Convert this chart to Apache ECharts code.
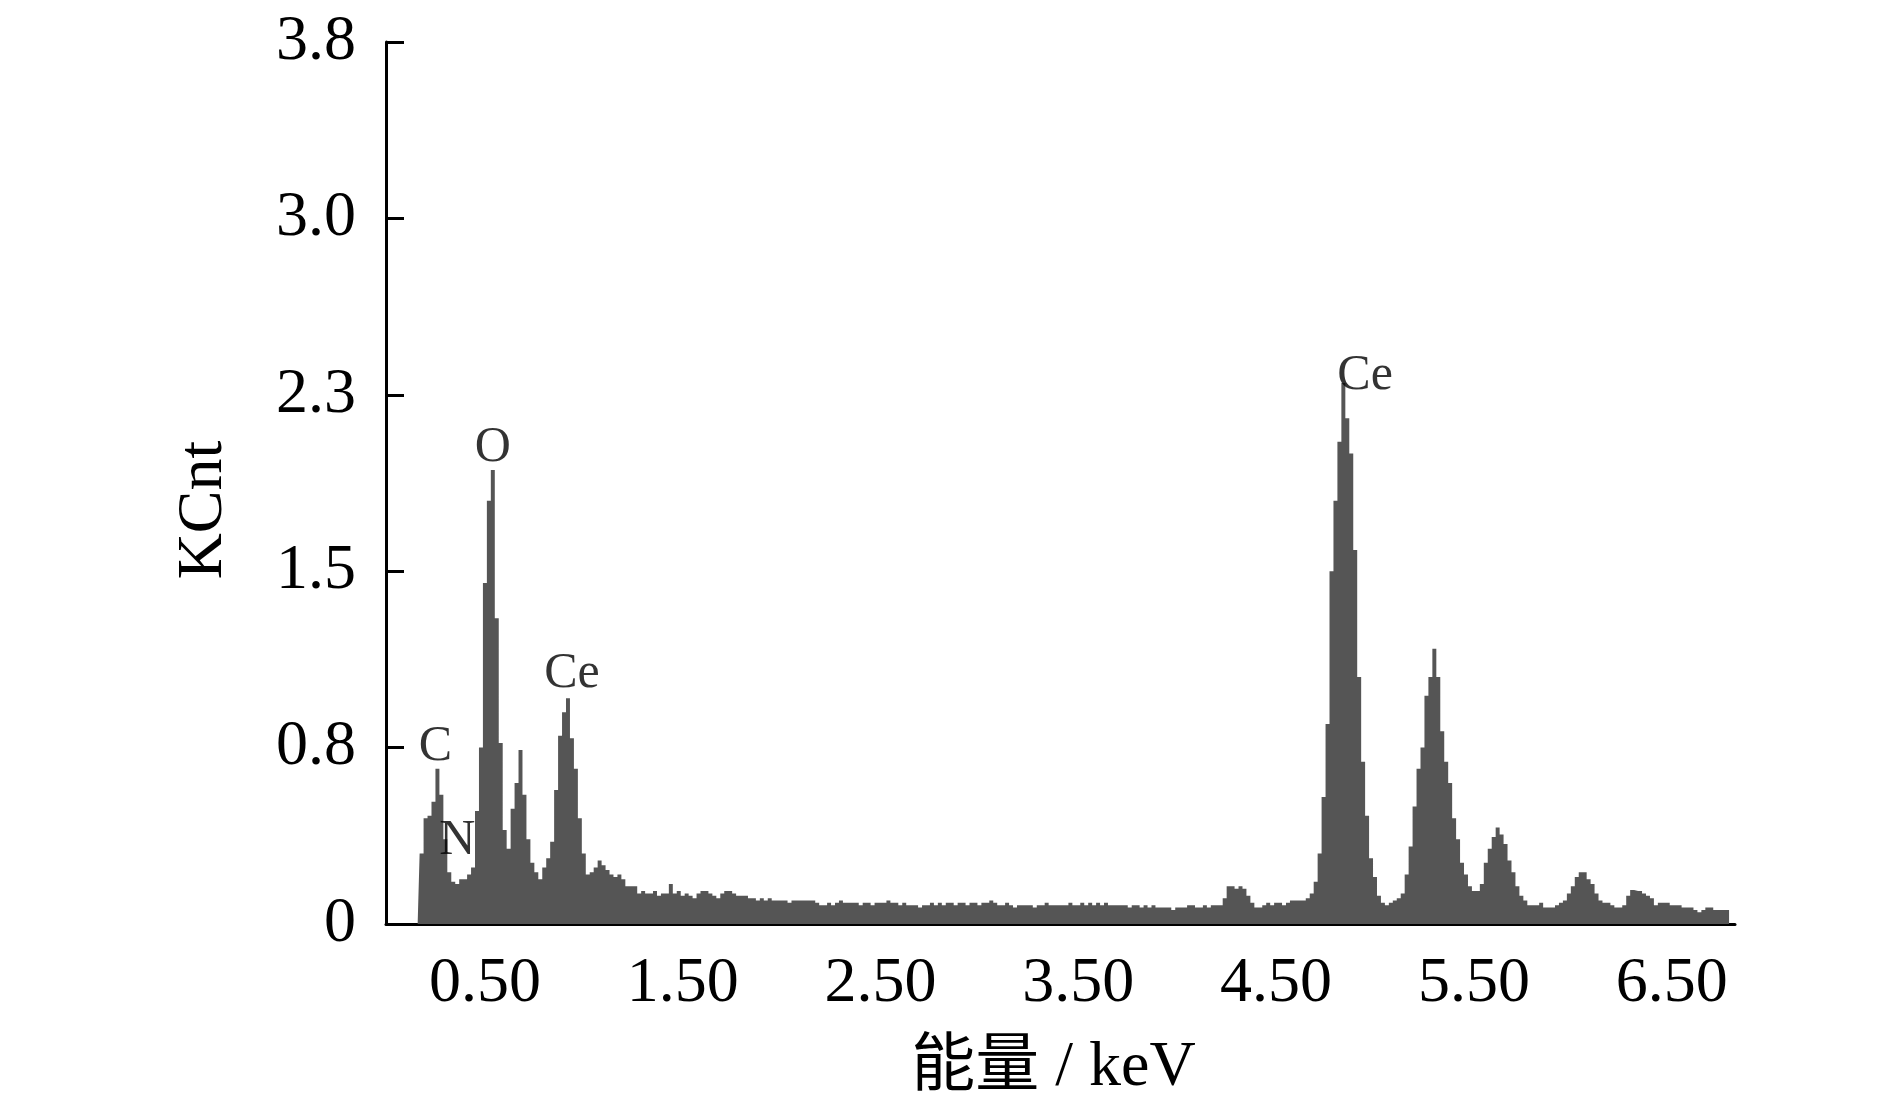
<!DOCTYPE html>
<html>
<head>
<meta charset="utf-8">
<title>EDS spectrum</title>
<script src="https://cdn.jsdelivr.net/npm/echarts@6/dist/echarts.min.js"></script>
<style>
  html, body { margin: 0; padding: 0; background: #fff; }
  #chart { width: 1890px; height: 1110px; }
</style>
</head>
<body>
<div id="chart"></div>
<script>
// channel calibration of the spectrum (keV)
const energyStart = 0.16
const energyStep = 0.02

// counts per channel, KCnt
const counts = [
  0, 0.30, 0.45, 0.46, 0.52, 0.66, 0.55, 0.36, 0.22, 0.18,
  0.17, 0.19, 0.19, 0.21, 0.24, 0.48, 0.75, 1.45, 1.80, 1.93,
  1.30, 0.77, 0.40, 0.32, 0.49, 0.60, 0.74, 0.55, 0.36, 0.26,
  0.22, 0.19, 0.24, 0.28, 0.35, 0.57, 0.80, 0.90, 0.96, 0.79,
  0.66, 0.45, 0.30, 0.21, 0.22, 0.24, 0.27, 0.25, 0.23, 0.21,
  0.20, 0.21, 0.19, 0.16, 0.16, 0.16, 0.13, 0.14, 0.13, 0.13,
  0.14, 0.12, 0.13, 0.13, 0.17, 0.13, 0.14, 0.12, 0.13, 0.12,
  0.11, 0.13, 0.14, 0.14, 0.13, 0.12, 0.11, 0.13, 0.14, 0.14,
  0.13, 0.12, 0.12, 0.12, 0.11, 0.11, 0.10, 0.11, 0.10, 0.11,
  0.10, 0.10, 0.10, 0.10, 0.09, 0.10, 0.10, 0.10, 0.10, 0.10,
  0.10, 0.09, 0.08, 0.08, 0.09, 0.08, 0.09, 0.10, 0.09, 0.09,
  0.09, 0.09, 0.08, 0.09, 0.09, 0.08, 0.09, 0.09, 0.09, 0.10,
  0.09, 0.09, 0.08, 0.09, 0.08, 0.08, 0.08, 0.07, 0.08, 0.08,
  0.09, 0.08, 0.09, 0.08, 0.09, 0.09, 0.08, 0.09, 0.09, 0.08,
  0.09, 0.09, 0.08, 0.09, 0.09, 0.10, 0.09, 0.08, 0.08, 0.09,
  0.08, 0.07, 0.08, 0.08, 0.08, 0.08, 0.07, 0.08, 0.08, 0.09,
  0.08, 0.08, 0.08, 0.08, 0.08, 0.09, 0.08, 0.08, 0.09, 0.08,
  0.09, 0.08, 0.09, 0.08, 0.09, 0.08, 0.08, 0.08, 0.08, 0.08,
  0.07, 0.08, 0.08, 0.07, 0.08, 0.07, 0.08, 0.07, 0.07, 0.07,
  0.07, 0.06, 0.07, 0.07, 0.07, 0.08, 0.08, 0.07, 0.07, 0.08,
  0.07, 0.08, 0.08, 0.08, 0.11, 0.16, 0.16, 0.15, 0.16, 0.15,
  0.12, 0.09, 0.07, 0.07, 0.08, 0.09, 0.08, 0.09, 0.09, 0.08,
  0.09, 0.10, 0.10, 0.10, 0.10, 0.11, 0.13, 0.18, 0.30, 0.54,
  0.85, 1.50, 1.80, 2.05, 2.30, 2.15, 2.00, 1.59, 1.05, 0.69,
  0.46, 0.28, 0.20, 0.12, 0.09, 0.08, 0.09, 0.10, 0.11, 0.13,
  0.21, 0.33, 0.50, 0.66, 0.75, 0.97, 1.05, 1.17, 1.05, 0.82,
  0.69, 0.60, 0.45, 0.36, 0.26, 0.21, 0.16, 0.14, 0.14, 0.17,
  0.26, 0.32, 0.37, 0.41, 0.38, 0.34, 0.27, 0.22, 0.16, 0.12,
  0.10, 0.08, 0.08, 0.08, 0.09, 0.07, 0.07, 0.07, 0.08, 0.09,
  0.10, 0.13, 0.16, 0.20, 0.22, 0.22, 0.19, 0.17, 0.13, 0.10,
  0.09, 0.09, 0.08, 0.07, 0.07, 0.08, 0.12, 0.145, 0.14, 0.14,
  0.13, 0.12, 0.11, 0.08, 0.09, 0.09, 0.09, 0.08, 0.08, 0.08,
  0.07, 0.07, 0.07, 0.06, 0.05, 0.06, 0.07, 0.07, 0.06, 0.06,
  0.06, 0.06, 0
]

const xTicks = [0.5, 1.5, 2.5, 3.5, 4.5, 5.5, 6.5]

// element labels: name, energy (keV) and height (KCnt) where the text sits
const peakNames = ['C', 'N', 'O', 'Ce', 'Ce']
const peakEnergy = [0.25, 0.36, 0.54, 0.94, 4.95]
const peakTextHeight = [0.755, 0.355, 2.025, 1.065, 2.33]

const serif = "'Liberation Serif', 'Times New Roman', 'Noto Sans CJK SC', serif"

const spectrum = counts.map((v, i) => [+(energyStart + i * energyStep).toFixed(2), v])
const peakLabels = peakNames.map((n, i) => ({ name: n, value: [peakEnergy[i], peakTextHeight[i]] }))

const chart = echarts.init(document.getElementById('chart'))

chart.setOption({
  animation: false,
  backgroundColor: '#fff',
  grid: { left: 386, right: 155, top: 42, bottom: 186 },
  xAxis: {
    type: 'value',
    min: 0,
    max: 6.82,
    name: '能量 / keV',
    nameLocation: 'middle',
    nameGap: 112,
    nameTextStyle: { fontFamily: serif, fontSize: 64, color: '#000', padding: [0, 14, 0, 0] },
    axisLine: { lineStyle: { color: '#000', width: 3 } },
    axisTick: {
      inside: true,
      length: 18,
      customValues: xTicks,
      lineStyle: { color: '#000', width: 3 },
    },
    axisLabel: {
      customValues: xTicks,
      margin: 28,
      fontFamily: serif,
      fontSize: 64,
      color: '#000',
      formatter: v => v.toFixed(2),
    },
    splitLine: { show: false },
  },
  yAxis: {
    type: 'value',
    min: 0,
    max: 3.75,
    interval: 0.75,
    name: 'KCnt',
    nameLocation: 'middle',
    nameGap: 150,
    nameTextStyle: { fontFamily: serif, fontSize: 64, color: '#000', padding: [0, 54, 0, 0] },
    axisLine: { show: true, lineStyle: { color: '#000', width: 3 } },
    axisTick: { show: true, inside: true, length: 18, lineStyle: { color: '#000', width: 3 } },
    axisLabel: {
      margin: 30,
      fontFamily: serif,
      fontSize: 64,
      color: '#000',
      formatter: v => (v === 0 ? '0' : v.toFixed(1)),
    },
    splitLine: { show: false },
  },
  series: [
    {
      type: 'line',
      step: 'middle',
      symbol: 'none',
      data: spectrum,
      lineStyle: { width: 0 },
      areaStyle: { color: '#555555', opacity: 1 },
      z: 2,
    },
    {
      type: 'scatter',
      data: peakLabels,
      symbolSize: 1,
      itemStyle: { color: 'rgba(0,0,0,0)' },
      label: {
        show: true,
        position: 'inside',
        formatter: p => p.name,
        fontFamily: serif,
        fontSize: 50,
        color: '#000',
      },
      z: 5,
    },
  ],
})
</script>
</body>
</html>
